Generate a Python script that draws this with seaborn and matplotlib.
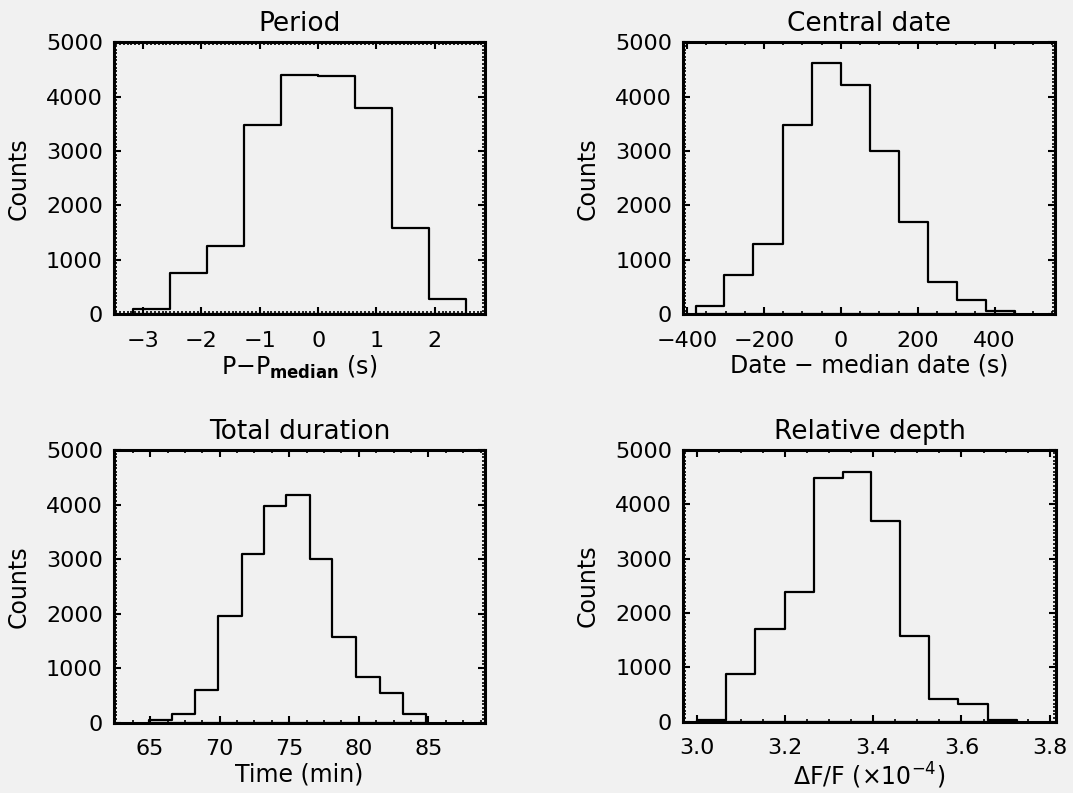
import numpy as np
import pandas as pd
import matplotlib
matplotlib.use("Agg")
import matplotlib.pyplot as plt
import seaborn as sns
from matplotlib.ticker import MultipleLocator, AutoMinorLocator

# Histogram bin edges and counts
period_edges = [-3.18, -2.54, -1.90, -1.27, -0.63, 0.0, 0.63, 1.27, 1.90, 2.54]
period_counts = [100, 750, 1260, 3480, 4400, 4380, 3790, 1580, 280]

date_edges = [-378, -303, -228, -150, -75, 0, 75, 151, 226, 301, 377, 453]
date_counts = [150, 730, 1300, 3480, 4620, 4220, 3000, 1690, 600, 270, 60]

dur_edges = [64.9, 66.6, 68.2, 69.9, 71.6, 73.2, 74.8, 76.5, 78.1, 79.8, 81.5, 83.2, 84.8]
dur_counts = [40, 150, 600, 1960, 3100, 3980, 4170, 3000, 1570, 830, 540, 150]

depth_edges = [3.0, 3.066, 3.132, 3.2, 3.266, 3.331, 3.395, 3.46, 3.527, 3.592, 3.659, 3.725]
depth_counts = [30, 880, 1700, 2380, 4480, 4600, 3700, 1570, 420, 330, 30]

titles = ["Period", "Central date", "Total duration", "Relative depth"]
xlabels = ["P\u2212P$_{\\mathbf{median}}$ (s)", "Date \u2212 median date (s)",
           "Time (min)", "\u0394F/F (\u00d710$^{\u22124}$)"]

sns.set_theme(style="ticks")
plt.rcParams["font.family"] = ["DejaVu Sans"]
plt.rcParams["mathtext.fontset"] = "dejavusans"
plt.rcParams["text.color"] = "black"
plt.rcParams["axes.labelcolor"] = "black"

bg = "#f1f1f1"
fig = plt.figure(figsize=(10.73, 7.93), dpi=100, facecolor=bg)

panels = [
    # edges, counts, xlim, major, minor-div, axes rect
    (period_edges, period_counts, (-3.5, 2.86), 1, 15, [0.1062, 0.6037, 0.3458, 0.343]),
    (date_edges, date_counts, (-410, 557), 200, 4, [0.6368, 0.6037, 0.3464, 0.343]),
    (dur_edges, dur_counts, (62.4, 89.07), 5, 4, [0.1062, 0.0887, 0.3458, 0.3438]),
    (depth_edges, depth_counts, (2.97, 3.814), 0.2, 4, [0.6368, 0.0899, 0.3473, 0.3428]),
]

for i, (edges, counts, xlim, major, ndiv, rect) in enumerate(panels):
    ax = fig.add_axes(rect)
    ax.set_facecolor(bg)
    e = np.array(edges, dtype=float)
    df = pd.DataFrame({"x": (e[:-1] + e[1:]) / 2, "n": counts})
    sns.histplot(data=df, x="x", weights="n", bins=list(edges), element="step",
                 fill=True, color="black", linewidth=1.6, ax=ax)
    # outline only, so the step closes down to zero at both ends
    for coll in ax.collections:
        coll.set_alpha(None)
        coll.set_facecolor("none")
        coll.set_edgecolor("black")
        coll.set_linewidth(1.6)
    ax.set_xlim(*xlim)
    ax.set_ylim(0, 5000)
    ax.xaxis.set_major_locator(MultipleLocator(major))
    ax.xaxis.set_minor_locator(AutoMinorLocator(ndiv))
    ax.yaxis.set_major_locator(MultipleLocator(1000))
    ax.yaxis.set_minor_locator(AutoMinorLocator(15))
    if major == 0.2:
        ax.xaxis.set_major_formatter(plt.FormatStrFormatter("%.1f"))
    for s in ax.spines.values():
        s.set_linewidth(2.2)
        s.set_color("black")
        s.set_zorder(5)
    ax.tick_params(which="both", direction="in", top=True, right=True,
                   colors="black", labelsize=16)
    ax.tick_params(which="major", length=5, width=1.5)
    ax.tick_params(which="minor", length=2.5, width=1.2)
    ax.tick_params(axis="x", which="major", pad=12)
    ax.tick_params(axis="y", which="major", pad=8)
    ax.set_title(titles[i], fontsize=19, pad=8)
    ax.set_xlabel(xlabels[i], fontsize=17, labelpad=2)
    ax.set_ylabel("Counts", fontsize=17, labelpad=11)

fig.savefig("out.png", dpi=100, facecolor=bg)
